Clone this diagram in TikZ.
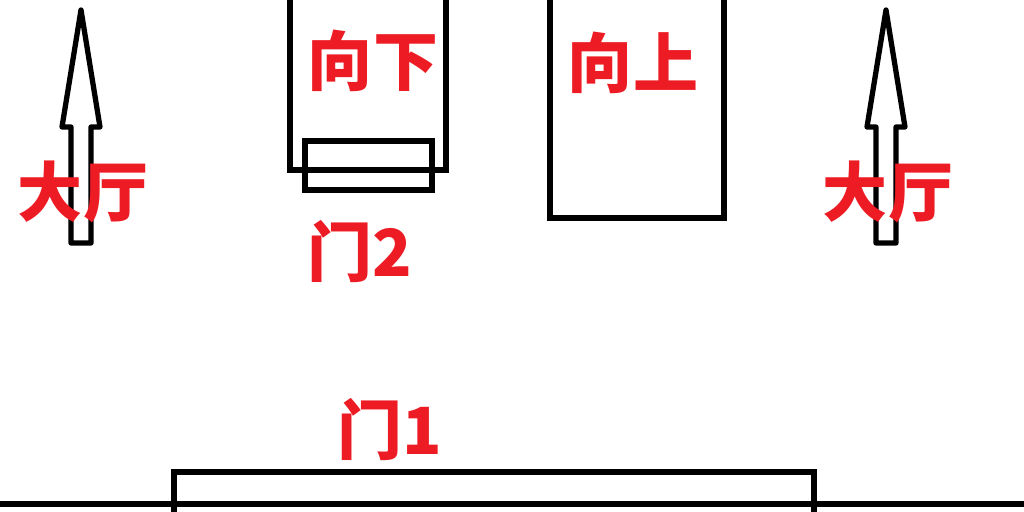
\documentclass[tikz,border=0pt]{standalone}
\usepackage{fontspec}
\newfontfamily\cjk{Noto Sans CJK SC}
\usepackage{tikz}
\usetikzlibrary{positioning}
\definecolor{labelred}{HTML}{ED1C24}
\begin{document}
\begin{tikzpicture}[
  line/.style={draw=black,line width=3pt},
  label/.style={text=labelred,font=\cjk\bfseries\fontsize{37}{37}\selectfont,inner sep=0pt}
]
\useasboundingbox (0,0) rectangle (20.48,10.24);
\clip (0,0) rectangle (20.48,10.24);
% 地面
\draw[line] (0,0.16) -- (20.48,0.16);
% 门1
\draw[line] (3.48,-0.5) rectangle (16.28,0.8);
% 向下
\draw[line] (5.8,6.84) rectangle (8.92,10.6);
% 门2
\draw[line] (6.1,6.44) rectangle (8.64,7.42);
% 向上
\draw[line] (11,5.88) rectangle (14.48,10.6);

% 大厅的箭头
\foreach \x in {1.62,17.72} {
  \draw[line,line join=round]
    (\x,10.04) -- (\x+0.38,7.7) -- (\x+0.2,7.7) -- (\x+0.2,5.38)
    -- (\x-0.2,5.38) -- (\x-0.2,7.7) -- (\x-0.38,7.7) -- cycle;
}

\node[label] (hallleft) at (1.66,6.4) {大厅};
\node[label] (hallright) at (17.76,6.4) {大厅};
\node[label] (down) at (7.46,9.02) {向下};
\node[label] (up) at (12.66,8.98) {向上};
\node[label] (door2) at (7.2,5.2) {门2};
\node[label] (door1) at (7.8,1.64) {门1};
\end{tikzpicture}
\end{document}
